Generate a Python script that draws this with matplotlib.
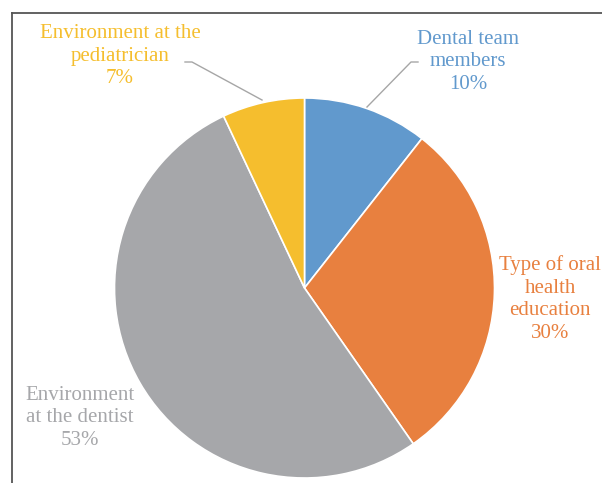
import matplotlib
matplotlib.use("Agg")
import matplotlib.pyplot as plt
from matplotlib.lines import Line2D

labels = ["Dental team\nmembers", "Type of oral\nhealth\neducation", "Environment\nat the dentist", "Environment at the\npediatrician"]
pct_labels = ["10%", "30%", "53%", "7%"]
values = [10.6, 29.7, 52.7, 7.0]
colors = ["#6199CD", "#E8803F", "#A6A7AA", "#F5BE2E"]

W, H = 602, 483
fig = plt.figure(figsize=(W / 100, H / 100), dpi=100)
ax = fig.add_axes([0, 0, 1, 1])
ax.axis("off")

cx, cy, r = 304.5, H - 288, 190
ax.pie(values, startangle=90, counterclock=False, center=(cx, cy), radius=r,
       colors=colors, wedgeprops=dict(edgecolor="white", linewidth=1.2))
ax.set_xlim(0, W)
ax.set_ylim(0, H)
ax.set_aspect("equal")

font = dict(family=["Liberation Serif", "DejaVu Serif"], fontsize=15, ha="center", va="center", linespacing=1.25)
pos = [(468, 62), (550, 299), (80, 418), (120, 56)]
for lab, p, c, (x, y) in zip(labels, pct_labels, colors, pos):
    ax.text(x, H - y, f"{lab}\n{p}", color=c, **font)

# leader lines
ax.plot([418, 411, 367], [H - 62, H - 62, H - 107], color="#A6A6A6", lw=1)
ax.plot([185, 192, 262], [H - 62, H - 62, H - 100], color="#A6A6A6", lw=1)

# frame (top and left edges)
fig.add_artist(Line2D([12 / W, 1], [1 - 13 / H, 1 - 13 / H], color="#555555", lw=1.3))
fig.add_artist(Line2D([12 / W, 12 / W], [0, 1 - 13 / H], color="#555555", lw=1.3))

fig.savefig("out.png", dpi=100)
